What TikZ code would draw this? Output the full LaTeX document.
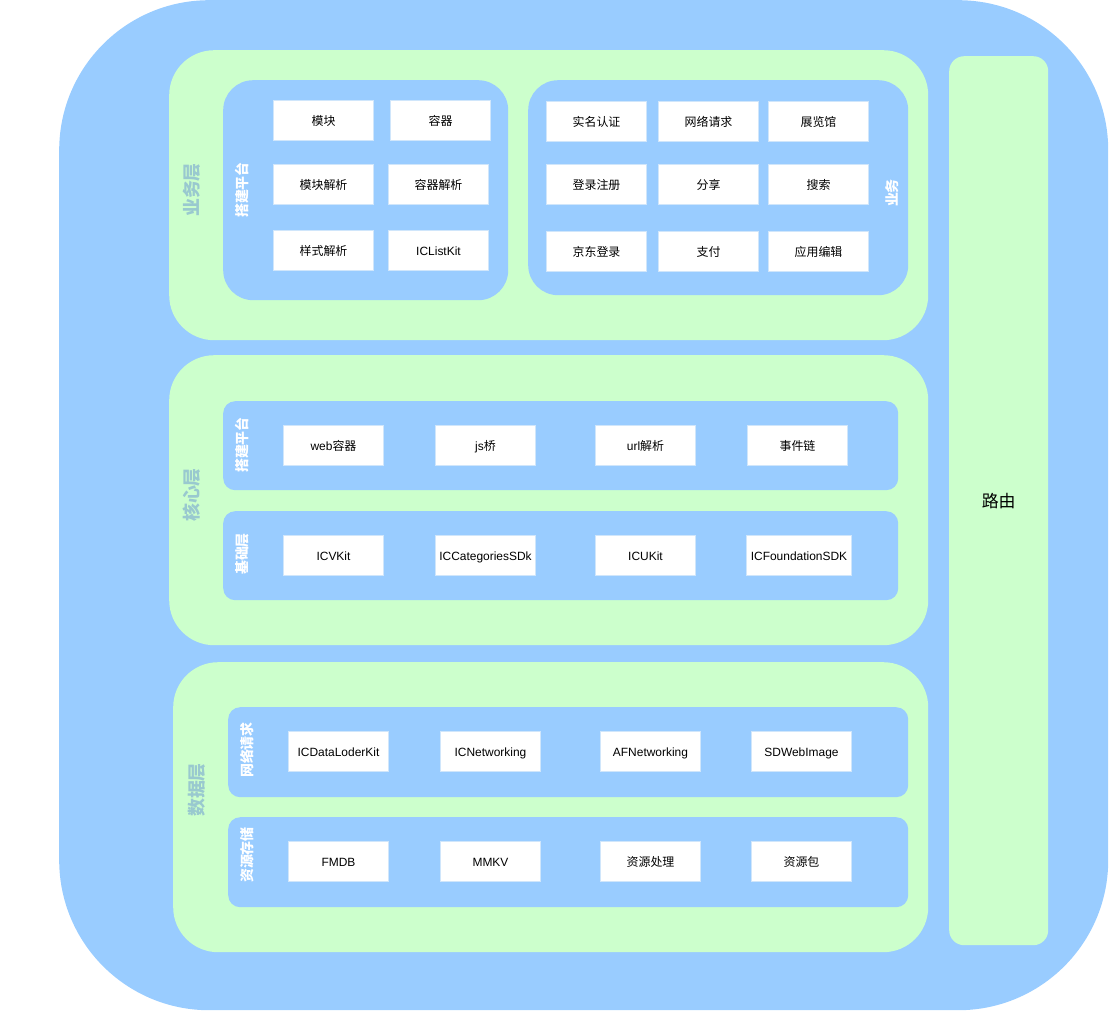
\documentclass[tikz,border=0pt]{standalone}
\usepackage{fontspec}
\setmainfont{Liberation Sans}
\newfontfamily\cjk{Noto Sans CJK SC}
\usetikzlibrary{positioning}
\definecolor{outerblue}{HTML}{99CCFF}
\definecolor{layergreen}{HTML}{CCFFCC}
\definecolor{itemline}{HTML}{D0E6FB}
\definecolor{layertext}{HTML}{99C9CF}

\begin{document}
\begin{tikzpicture}[x=1bp, y=-1bp,
  layer/.style={rectangle, fill=layergreen, rounded corners=45bp, anchor=north west},
  panel/.style={rectangle, fill=outerblue, rounded corners=12bp, anchor=north west},
  item/.style={rectangle, draw=itemline, line width=1bp, fill=white, minimum width=100bp, minimum height=40bp, inner sep=0pt, text height=10bp, text depth=1bp, anchor=north west, font=\fontsize{12}{14}\selectfont},
  layerlabel/.style={rotate=90, text=layertext, font=\fontsize{18}{20}\selectfont\cjk\bfseries},
  panellabel/.style={rotate=90, text=white, font=\fontsize{14}{16}\selectfont\cjk\bfseries}]
\useasboundingbox (0,0) rectangle (1109,1011);

\node (rect) [rectangle, fill=outerblue, rounded corners=150bp, minimum width=1049bp, minimum height=1010bp, anchor=north west] at (59,0) {};

% business layer
\node (rectBiz) [layer, minimum width=759bp, minimum height=290bp] at (169,50) {};
\node [layerlabel] at (192,190) {业务层};

\node (rectBizA) [panel, rounded corners=30bp, minimum width=285bp, minimum height=220bp] at (223,80) {};
\node [panellabel] at (242,190) {搭建平台};
\node (rectBizA0) [item] at (273,100) {\cjk 模块};
\node (rectBizA1) [item] at (390,100) {\cjk 容器};
\node (rectBizA2) [item] at (273,164) {\cjk 模块解析};
\node (rectBizA3) [item] at (388,164) {\cjk 容器解析};
\node (rectBizA4) [item] at (273,230) {\cjk 样式解析};
\node (rectBizA5) [item] at (388,230) {ICListKit};

\node (rectBizB) [panel, rounded corners=30bp, minimum width=380bp, minimum height=215bp] at (528,80) {};
\node [panellabel] at (892,193) {业务};
\node (rectBizB0) [item] at (546,101) {\cjk 实名认证};
\node (rectBizB1) [item] at (658,101) {\cjk 网络请求};
\node (rectBizB2) [item] at (768,101) {\cjk 展览馆};
\node (rectBizB3) [item] at (546,164) {\cjk 登录注册};
\node (rectBizB4) [item] at (658,164) {\cjk 分享};
\node (rectBizB5) [item] at (768,164) {\cjk 搜索};
\node (rectBizB6) [item] at (546,231) {\cjk 京东登录};
\node (rectBizB7) [item] at (658,231) {\cjk 支付};
\node (rectBizB8) [item] at (768,231) {\cjk 应用编辑};

% core layer
\node (rectCore) [layer, minimum width=759bp, minimum height=290bp] at (169,355) {};
\node [layerlabel] at (192,495) {核心层};

\node (rectCoreA) [panel, minimum width=675bp, minimum height=89bp] at (223,401) {};
\node [panellabel] at (242,445) {搭建平台};
\node (rectCoreA0) [item] at (283,425) {web{\cjk 容器}};
\node (rectCoreA1) [item] at (435,425) {js{\cjk 桥}};
\node (rectCoreA2) [item] at (595,425) {url{\cjk 解析}};
\node (rectCoreA3) [item] at (747,425) {\cjk 事件链};

\node (rectCoreB) [panel, minimum width=675bp, minimum height=89bp] at (223,511) {};
\node [panellabel] at (242,554) {基础层};
\node (rectCoreB0) [item] at (283,535) {ICVKit};
\node (rectCoreB1) [item] at (435,535) {ICCategoriesSDk};
\node (rectCoreB2) [item] at (595,535) {ICUKit};
\node (rectCoreB3) [item, minimum width=105bp] at (746,535) {ICFoundationSDK};

% data layer
\node (rectData) [layer, minimum width=755bp, minimum height=290bp] at (173,662) {};
\node [layerlabel] at (197,790) {数据层};

\node (rectDataA) [panel, minimum width=680bp, minimum height=90bp] at (228,707) {};
\node [panellabel] at (247,750) {网络请求};
\node (rectDataA0) [item] at (288,731) {ICDataLoderKit};
\node (rectDataA1) [item] at (440,731) {ICNetworking};
\node (rectDataA2) [item] at (600,731) {AFNetworking};
\node (rectDataA3) [item] at (751,731) {SDWebImage};

\node (rectDataB) [panel, minimum width=680bp, minimum height=90bp] at (228,817) {};
\node [panellabel] at (247,855) {资源存储};
\node (rectDataB0) [item] at (288,841) {FMDB};
\node (rectDataB1) [item] at (440,841) {MMKV};
\node (rectDataB2) [item] at (600,841) {\cjk 资源处理};
\node (rectDataB3) [item] at (751,841) {\cjk 资源包};

% routing
\node (rectRoute) [rectangle, fill=layergreen, rounded corners=15bp, minimum width=99bp, minimum height=889bp, anchor=north west] at (949,56) {};
\node [font=\fontsize{17}{20}\selectfont\cjk] at (rectRoute.center) {路由};
\end{tikzpicture}
\end{document}
